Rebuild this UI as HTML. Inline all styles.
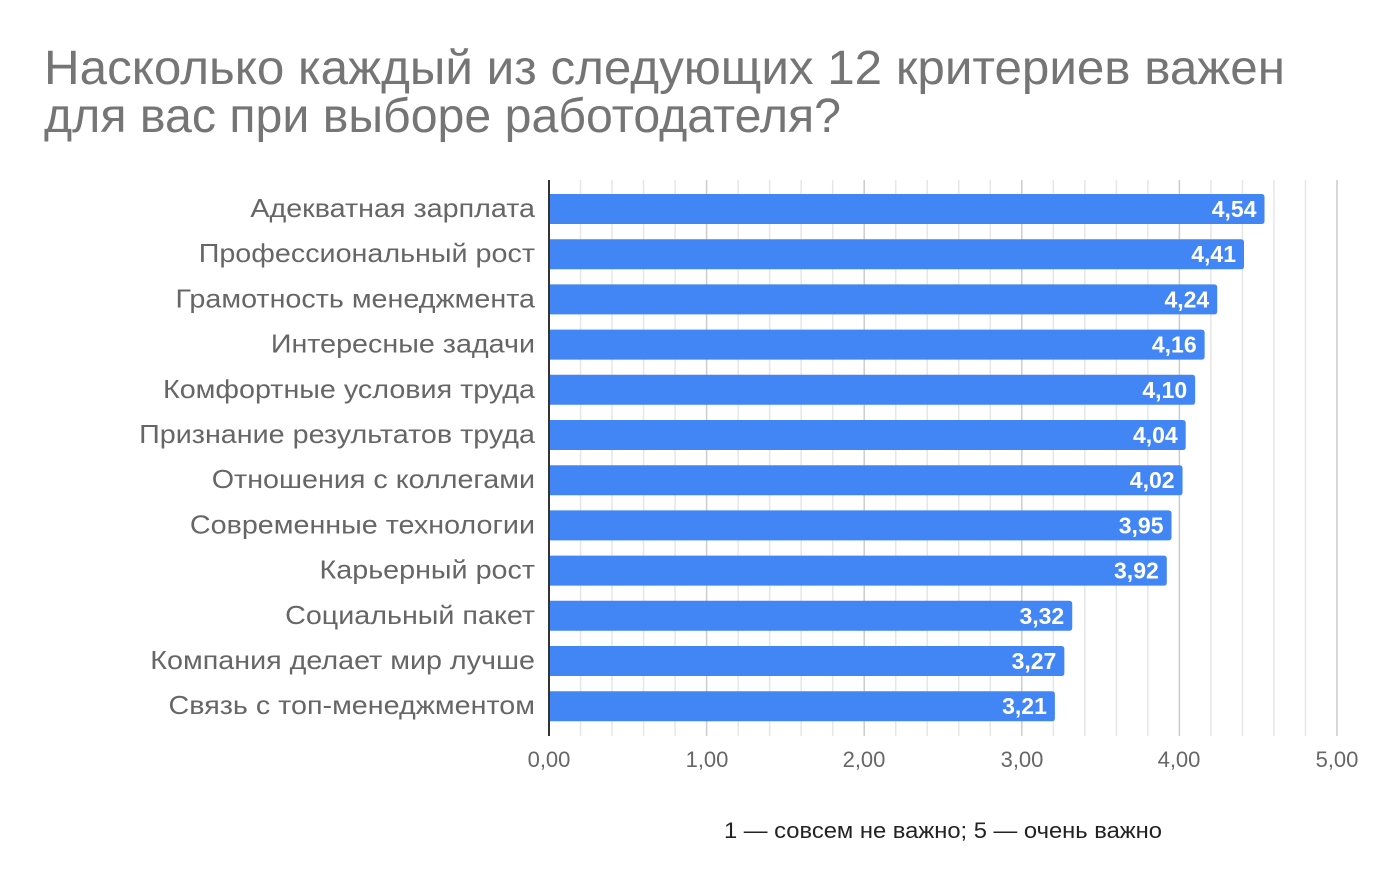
<!DOCTYPE html><html><head><meta charset="utf-8"><style>
body{margin:0;background:#fff;font-family:"Liberation Sans","DejaVu Sans",sans-serif}
</style></head><body>
<svg width="1382" height="890" xmlns="http://www.w3.org/2000/svg" font-family="Liberation Sans, DejaVu Sans, sans-serif">
<text x="44" y="84" font-size="48" fill="#757575" textLength="1241" lengthAdjust="spacingAndGlyphs">Насколько каждый из следующих 12 критериев важен</text>
<text x="44" y="132" font-size="48" fill="#757575" textLength="797" lengthAdjust="spacingAndGlyphs">для вас при выборе работодателя?</text>
<g id="grid"></g>
<g id="bars"></g>
<line x1="549" y1="180" x2="549" y2="736" stroke="#333" stroke-width="2"/>
<g font-size="22" fill="#666" text-anchor="middle">
<text x="549" y="767">0,00</text><text x="707" y="767">1,00</text><text x="864" y="767">2,00</text><text x="1022" y="767">3,00</text><text x="1179" y="767">4,00</text><text x="1337" y="767">5,00</text>
</g>
<text x="724" y="838" font-size="22" fill="#222" textLength="438" lengthAdjust="spacingAndGlyphs">1 — совсем не важно; 5 — очень важно</text>
<script>
var ns="http://www.w3.org/2000/svg",g=document.getElementById("grid"),b=document.getElementById("bars");
for(var i=1;i<=25;i++){var x=549+i*0.2*157.6;var l=document.createElementNS(ns,"line");l.setAttribute("x1",x);l.setAttribute("x2",x);l.setAttribute("y1",180);l.setAttribute("y2",736);l.setAttribute("stroke",i%5==0?"#ccc":"#e6e6e6");l.setAttribute("stroke-width",1.5);g.appendChild(l);}
var d=[["Адекватная зарплата",4.54],["Профессиональный рост",4.41],["Грамотность менеджмента",4.24],["Интересные задачи",4.16],["Комфортные условия труда",4.10],["Признание результатов труда",4.04],["Отношения с коллегами",4.02],["Современные технологии",3.95],["Карьерный рост",3.92],["Социальный пакет",3.32],["Компания делает мир лучше",3.27],["Связь с топ-менеджментом",3.21]];
d.forEach(function(r,k){var y=194+k*45.2,w=r[1]*157.6;
var p=document.createElementNS(ns,"path");var x2=549+w;
p.setAttribute("d","M549 "+y+"H"+(x2-3)+"Q"+x2+" "+y+" "+x2+" "+(y+3)+"V"+(y+27)+"Q"+x2+" "+(y+30)+" "+(x2-3)+" "+(y+30)+"H549Z");
p.setAttribute("fill","#4285f4");b.appendChild(p);
var t=document.createElementNS(ns,"text");t.setAttribute("x",x2-8);t.setAttribute("y",y+23);t.setAttribute("fill","#fff");t.setAttribute("font-size","23");t.setAttribute("font-weight","bold");t.setAttribute("text-anchor","end");t.textContent=r[1].toFixed(2).replace(".",",");b.appendChild(t);
var s=document.createElementNS(ns,"text");s.setAttribute("x",535);s.setAttribute("y",y+23);s.setAttribute("fill","#666");s.setAttribute("font-size","26");s.setAttribute("text-anchor","end");s.textContent=r[0];b.appendChild(s);
var L=s.getComputedTextLength();s.setAttribute("textLength",L*1.104);s.setAttribute("lengthAdjust","spacingAndGlyphs");});
</script>
</svg></body></html>
